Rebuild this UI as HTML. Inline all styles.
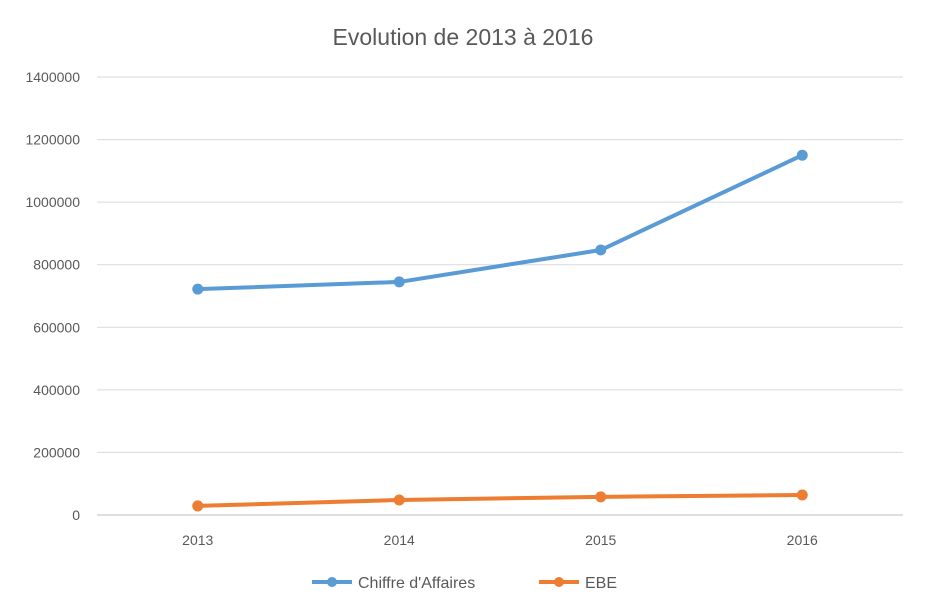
<!DOCTYPE html>
<html><head><meta charset="utf-8">
<style>
html,body{margin:0;padding:0;background:#fff;}
svg{display:block;font-family:"Liberation Sans",sans-serif;}
</style></head>
<body>
<svg id="chart" width="926" height="616" viewBox="0 0 926 616">
<text x="463" y="45" text-anchor="middle" font-size="23" fill="#595959">Evolution de 2013 à 2016</text>
<g id="grid"></g>
<g id="series"></g>
<g>
  <g>
    <line x1="312" y1="582" x2="352" y2="582" stroke="#5B9BD5" stroke-width="4"/>
    <circle cx="332" cy="582" r="5" fill="#5B9BD5"/>
    <text x="358" y="588" font-size="16" fill="#595959">Chiffre d'Affaires</text>
  </g>
  <g>
    <line x1="539" y1="582" x2="579" y2="582" stroke="#ED7D31" stroke-width="4"/>
    <circle cx="559" cy="582" r="5" fill="#ED7D31"/>
    <text x="585" y="588" font-size="16" fill="#595959">EBE</text>
  </g>
</g>
</svg>
<script>
const categories = ["2013","2014","2015","2016"];
const caValues = [722000, 745000, 847000, 1150000];
const ebeValues = [29000, 48000, 58000, 64000];
const yTicks = [0,200000,400000,600000,800000,1000000,1200000,1400000];

const NS = "http://www.w3.org/2000/svg";
const plotL = 97, plotR = 903, y0 = 515, yTop = 77, yMax = 1400000;
function yScale(v){ return y0 - (v / yMax) * (y0 - yTop); }
function xScale(i){ const w = (plotR - plotL) / categories.length; return plotL + w * (i + 0.5); }
function mk(tag, attrs){ const e = document.createElementNS(NS, tag); for (const k in attrs) e.setAttribute(k, attrs[k]); return e; }

const grid = document.getElementById('grid');
yTicks.forEach(function(t){
  const y = yScale(t);
  const l = mk('line', {x1: plotL, x2: plotR, y1: y, y2: y, stroke: t === 0 ? '#BFBFBF' : '#D9D9D9', 'stroke-width': 1});
  
  
  grid.appendChild(l);
  const tx = mk('text', {x: 80, y: y + 5, 'text-anchor': 'end', 'font-size': 14, fill: '#595959'});
  tx.textContent = String(t);
  
  
  grid.appendChild(tx);
});
categories.forEach(function(c, i){
  const tx = mk('text', {x: xScale(i), y: 545, 'text-anchor': 'middle', 'font-size': 14, fill: '#595959'});
  tx.textContent = c;
  
  
  grid.appendChild(tx);
});

const series = document.getElementById('series');
function drawSeries(vals, color, name){
  const pts = vals.map(function(v, i){ return xScale(i) + ',' + yScale(v); }).join(' ');
  const pl = mk('polyline', {points: pts, fill: 'none', stroke: color, 'stroke-width': 4, 'stroke-linejoin': 'round', 'stroke-linecap': 'round'});
  
  
  series.appendChild(pl);
  vals.forEach(function(v, i){
    const c = mk('circle', {cx: xScale(i), cy: yScale(v), r: 5.5, fill: color});
    
    
    series.appendChild(c);
  });
}
drawSeries(caValues, '#5B9BD5', 'chiffre-affaires');
drawSeries(ebeValues, '#ED7D31', 'ebe');
</script>
</body></html>
